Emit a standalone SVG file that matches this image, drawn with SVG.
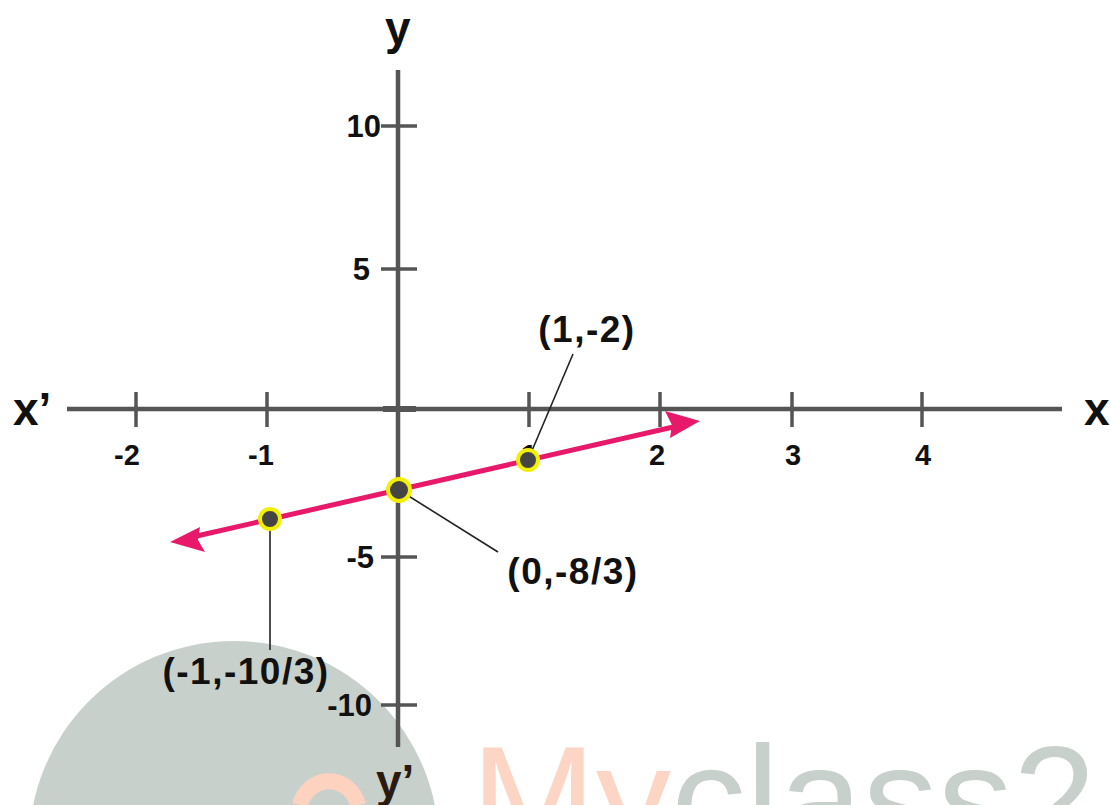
<svg xmlns="http://www.w3.org/2000/svg" width="1111" height="805" viewBox="0 0 1111 805">
<style>
.ax{stroke:#555;stroke-width:4.5;fill:none}
.tk{stroke:#555;stroke-width:3.5;fill:none}
.t{font-family:"Liberation Sans",Arial,sans-serif;font-weight:bold;fill:#111}
.tl{font-size:29px}
.yl{font-size:31px;text-anchor:end}
.al{font-size:46px}
.pl{font-size:37px;text-anchor:middle;letter-spacing:1.5px}
.ld{stroke:#222;stroke-width:1.6;fill:none}
.pt{fill:#444;stroke:#f2f000;stroke-width:4}
.wm{font-family:"Liberation Sans",Arial,sans-serif;font-size:150px}
</style>
<rect width="1111" height="805" fill="#fff"/>
<g id="watermark">
<circle cx="234" cy="846" r="205" fill="#c8d0cc"/>
<path d="M300 805 A30 32 0 0 1 358 805" fill="none" stroke="#fdd3c0" stroke-width="16"/>
<text class="wm" x="471" y="851"><tspan fill="#fdd5c5">My</tspan><tspan fill="#c8d0cc">class2</tspan></text>
</g>
<g id="axes">
<line class="ax" x1="67" y1="409" x2="1062" y2="409"/>
<line class="ax" x1="398" y1="70" x2="398" y2="747"/>
<line class="ax" x1="383" y1="409" x2="416" y2="409" style="stroke-width:6"/>
<g id="xticks">
<line class="tk" x1="136" y1="392" x2="136" y2="427"/>
<line class="tk" x1="267" y1="392" x2="267" y2="427"/>
<line class="tk" x1="529" y1="392" x2="529" y2="427"/>
<line class="tk" x1="660" y1="392" x2="660" y2="427"/>
<line class="tk" x1="792" y1="392" x2="792" y2="427"/>
<line class="tk" x1="922" y1="392" x2="922" y2="427"/>
</g>
<g id="yticks">
<line class="tk" x1="381" y1="126" x2="417" y2="126"/>
<line class="tk" x1="381" y1="269" x2="417" y2="269"/>
<line class="tk" x1="381" y1="557" x2="417" y2="557"/>
<line class="tk" x1="381" y1="705" x2="417" y2="705"/>
</g>
<g id="xlabels" class="t tl" text-anchor="middle">
<text x="127" y="465">-2</text>
<text x="261" y="465">-1</text>
<text x="529" y="465">1</text>
<text x="657" y="465">2</text>
<text x="793" y="465">3</text>
<text x="923" y="465">4</text>
</g>
<g id="ylabels" class="t yl">
<text x="381" y="137">10</text>
<text x="370" y="280">5</text>
<text x="374" y="568">-5</text>
<text x="372" y="716">-10</text>
</g>
<g id="axislabels" class="t al">
<text x="13" y="425">x’</text>
<text x="1084" y="425">x</text>
<text x="385" y="44">y</text>
<text x="376" y="797" fill="#2a1a10">y’</text>
</g>
</g>
<g id="connectors">
<line class="ld" x1="528" y1="460" x2="573" y2="354"/>
<line class="ld" x1="399" y1="490" x2="498" y2="552"/>
<line class="ld" x1="270" y1="519" x2="270" y2="650"/>
</g>
<g id="line">
<line x1="188" y1="538" x2="682" y2="425" stroke="#e8186a" stroke-width="5"/>
<polygon points="700,421 665,411 672,425 670,438" fill="#e8186a"/>
<polygon points="170,542 200,527 198,540 205,552" fill="#e8186a"/>
</g>
<g id="p1"><circle class="pt" cx="528" cy="460" r="10"/></g>
<g id="p0"><circle class="pt" cx="399" cy="490" r="11"/></g>
<g id="pm1"><circle class="pt" cx="270" cy="519" r="10"/></g>
<g id="labels" class="t pl">
<text x="587" y="342">(1,-2)</text>
<text x="573" y="584">(0,-8/3)</text>
<text x="246" y="684">(-1,-10/3)</text>
</g>
</svg>
